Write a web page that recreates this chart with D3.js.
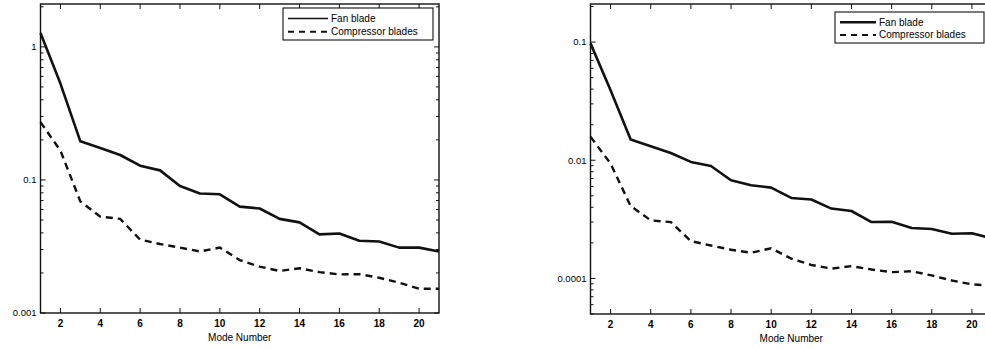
<!DOCTYPE html>
<html><head><meta charset="utf-8">
<script src="https://cdn.jsdelivr.net/npm/d3@7"></script>
<style>
body{margin:0;background:#fff;}
text{font-family:"Liberation Sans",Arial,sans-serif;fill:#000;}
</style></head>
<body><svg id="c" width="985" height="349"></svg>
<script>
const modes = d3.range(1, 22);
// Left panel
const leftFan = [1.27,0.53,0.195,0.174,0.154,0.128,0.118,0.090,0.079,0.078,0.063,0.061,0.051,0.048,0.039,0.0396,0.0349,0.0345,0.031,0.031,0.029];
const leftComp = [0.272,0.166,0.069,0.053,0.051,0.0356,0.033,0.031,0.029,0.031,0.025,0.0223,0.0207,0.0217,0.0203,0.0195,0.0196,0.0184,0.0169,0.0152,0.0152];
const leftTickVals = [1, 0.1, 0.01];
const leftTickLabels = ["1", "0.1", "0.001"];
// Right panel
const rightFan = [0.0975,0.0392,0.0150,0.01315,0.01153,0.00968,0.00895,0.00678,0.00614,0.00587,0.0048,0.00465,0.0039,0.00372,0.0030,0.00302,0.00267,0.00262,0.00239,0.00241,0.00218];
const rightComp = [0.0158,0.00937,0.0041,0.0031,0.0030,0.00207,0.0019,0.00175,0.00165,0.0018,0.00147,0.0013,0.00121,0.00127,0.00119,0.00113,0.00115,0.00106,0.00096,0.00089,0.00087];
const rightTickVals = [0.1, 0.01, 0.001];
const rightTickLabels = ["0.1", "0.01", "0.0001"];
const xTicks = [2,4,6,8,10,12,14,16,18,20];
const seriesNames = ["Fan blade", "Compressor blades"];

const svg = d3.select("#c");

function panel(opt){
  const g = svg.append("g");
  const x = d3.scaleLinear().domain([1,21]).range([opt.x0, opt.x1]);
  const y = d3.scaleLog().domain(opt.ydom).range([opt.y1, opt.y0]);
  const maj = 5, mnr = 3;
  const minor = y.ticks().filter(v => !opt.tickVals.some(t => Math.abs(t - v)/t < 1e-6));
  g.append("rect").attr("x", opt.x0).attr("y", opt.y0)
    .attr("width", opt.x1 - opt.x0).attr("height", opt.y1 - opt.y0)
    .attr("fill", "none").attr("stroke", "#111").attr("stroke-width", 1.4);
  const yt = g.append("g").attr("stroke", "#111").attr("stroke-width", 1);
  opt.tickVals.forEach(v => {
    yt.append("line").attr("x1", opt.x0).attr("x2", opt.x0 + maj).attr("y1", y(v)).attr("y2", y(v));
    yt.append("line").attr("x1", opt.x1).attr("x2", opt.x1 - maj).attr("y1", y(v)).attr("y2", y(v));
  });
  minor.forEach(v => {
    yt.append("line").attr("x1", opt.x0).attr("x2", opt.x0 + mnr).attr("y1", y(v)).attr("y2", y(v));
    yt.append("line").attr("x1", opt.x1).attr("x2", opt.x1 - mnr).attr("y1", y(v)).attr("y2", y(v));
  });
  xTicks.forEach(v => {
    yt.append("line").attr("x1", x(v)).attr("x2", x(v)).attr("y1", opt.y1).attr("y2", opt.y1 - maj);
    yt.append("line").attr("x1", x(v)).attr("x2", x(v)).attr("y1", opt.y0).attr("y2", opt.y0 + maj);
  });
  opt.tickVals.forEach((v, i) => {
    g.append("text").attr("x", opt.x0 - 4).attr("y", y(v)).attr("dy", "0.35em")
      .attr("text-anchor", "end").attr("font-size", 9.5).text(opt.tickLabels[i]);
  });
  xTicks.forEach(v => {
    g.append("text").attr("x", x(v)).attr("y", opt.y1 + 14)
      .attr("text-anchor", "middle").attr("font-size", 10).attr("font-weight", "bold").text(v);
  });
  g.append("text").attr("x", (opt.x0 + opt.x1) / 2).attr("y", opt.y1 + 28)
    .attr("text-anchor", "middle").attr("font-size", 10).text("Mode Number");
  const line = d3.line().x((d, i) => x(modes[i])).y(d => y(d));
  g.append("path").datum(opt.fan).attr("d", line).attr("fill", "none")
    .attr("stroke", "#111").attr("stroke-width", 2.6).attr("stroke-linejoin", "round");
  g.append("path").datum(opt.comp).attr("d", line).attr("fill", "none")
    .attr("stroke", "#111").attr("stroke-width", 2.4).attr("stroke-dasharray", "7,5");
  const L = opt.legend;
  g.append("rect").attr("x", L.x).attr("y", L.y).attr("width", L.w).attr("height", L.h)
    .attr("fill", "#fff").attr("stroke", "#111").attr("stroke-width", 1.1);
  [0, 1].forEach(i => {
    const ly = L.y + L.h * (i === 0 ? 0.33 : 0.74);
    g.append("line").attr("x1", L.x + 5).attr("x2", L.x + 5 + L.sw).attr("y1", ly).attr("y2", ly)
      .attr("stroke", "#111").attr("stroke-width", i === 0 ? L.lw : 2)
      .attr("stroke-dasharray", i === 0 ? null : "6,5");
    g.append("text").attr("x", L.x + 8 + L.sw).attr("y", ly).attr("dy", "0.35em")
      .attr("font-size", 10).text(seriesNames[i]);
  });
}

panel({x0: 40.5, x1: 439, y0: 4, y1: 313, ydom: [0.01, 2.1],
  tickVals: leftTickVals, tickLabels: leftTickLabels, fan: leftFan, comp: leftComp,
  legend: {x: 283, y: 8, w: 150, h: 32, sw: 40, lw: 1.4}});
panel({x0: 590.5, x1: 992, y0: 4, y1: 314, ydom: [0.0005, 0.21],
  tickVals: rightTickVals, tickLabels: rightTickLabels, fan: rightFan, comp: rightComp,
  legend: {x: 835, y: 12, w: 149, h: 31, sw: 36, lw: 2.6}});
</script></body></html>
